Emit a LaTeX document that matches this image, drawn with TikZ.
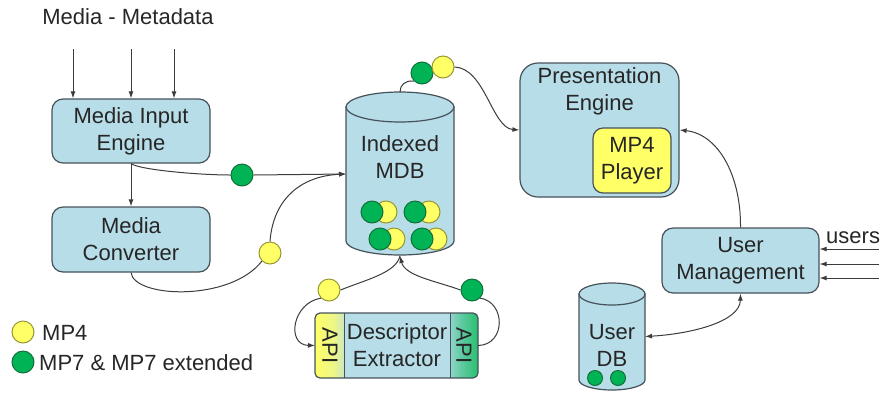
\documentclass[tikz,border=0pt]{standalone}
\usepackage{fontspec}
\setmainfont{Liberation Sans}
\usetikzlibrary{arrows.meta}
\definecolor{boxfill}{RGB}{183,221,232}
\definecolor{boxdraw}{RGB}{70,82,90}
\definecolor{ylw}{RGB}{255,255,102}
\definecolor{ydraw}{RGB}{150,150,50}
\definecolor{grn}{RGB}{0,180,85}
\definecolor{gdraw}{RGB}{20,110,60}
\definecolor{lncol}{RGB}{60,60,60}
\begin{document}
\begin{tikzpicture}[x=1pt,y=-1pt,
  txt/.style={font=\fontsize{22}{27}\selectfont, align=center, inner sep=0pt, text=black!85},
  box/.style={txt, draw=boxdraw, line width=1.2pt, fill=boxfill, rounded corners=11pt},
  shapeline/.style={draw=boxdraw, line width=1.2pt, fill=boxfill},
  conn/.style={draw=lncol, line width=1pt},
  arr/.style={conn, -{Latex[length=7pt,width=5pt]}},
  darr/.style={conn, {Latex[length=7pt,width=5pt]}-{Latex[length=7pt,width=5pt]}},
  ydot/.style={circle, fill=ylw, draw=ydraw, line width=1pt, minimum size=22pt, inner sep=0pt},
  gdot/.style={circle, fill=grn, draw=gdraw, line width=1pt, minimum size=22pt, inner sep=0pt},
  sgdot/.style={gdot, minimum size=15pt},
  hold/.style={inner sep=0pt, outer sep=0pt}
]
\useasboundingbox (0,0) rectangle (882,392);

% ---------- Media input side ----------
\node[txt] (mm) at (128,17) {Media - Metadata};
\node[box, minimum width=158pt, minimum height=64pt] (mie) at (131,131) {Media Input\\Engine};
\node[box, minimum width=158pt, minimum height=65pt] (mc) at (131,239.5) {Media\\Converter};
\coordinate (i1) at (73,49);
\coordinate (i2) at (131,49);
\coordinate (i3) at (174,49);
\draw[arr] (i1) -- (i1 |- mie.north);
\draw[arr] (i2) -- (i2 |- mie.north);
\draw[arr] (i3) -- (i3 |- mie.north);
\draw[arr] (mie.south) -- (mc.north);

% ---------- Indexed MDB cylinder ----------
\path[shapeline] (346,107) -- (346,241)
  .. controls (346,248.7) and (370.2,255) .. (400,255)
  .. controls (429.8,255) and (454,248.7) .. (454,241) -- (454,107) -- cycle;
\path[shapeline] (400,107) ellipse [x radius=54, y radius=15];
\node[hold, minimum width=108pt, minimum height=164pt] (mdb) at (400,174) {};
\node[txt] (mdbt) at (400,157) {Indexed\\MDB};
\foreach \px/\py/\nm in {372/212/a, 415/212/b, 380/239/c, 422/239/d}{
  \node[ydot] (y\nm) at (\px+14,\py) {};
  \node[gdot] (g\nm) at (\px,\py) {};
}

% ---------- Presentation engine ----------
\node[box, rounded corners=18pt, minimum width=159pt, minimum height=134pt] (pe) at (599.5,130) {};
\node[txt] (pet) at (599.5,91.5) {Presentation\\Engine};
\node[box, fill=ylw, rounded corners=10pt, minimum width=78pt, minimum height=65pt] (mp4) at (632,160.5) {MP4\\Player};

% ---------- User management ----------
\node[box, minimum width=157pt, minimum height=65pt] (um) at (740.5,260.5) {User\\Management};
\node[txt, anchor=base west] (users) at (826,243) {users};
\coordinate (u1) at (879,249);
\coordinate (u2) at (879,264);
\coordinate (u3) at (879,278);
\draw[arr] (u1) -- (u1 -| um.east);
\draw[arr] (u2) -- (u2 -| um.east);
\draw[arr] (u3) -- (u3 -| um.east);

% User DB cylinder
\path[shapeline] (579,294) -- (579,380)
  .. controls (579,385.5) and (593.8,390) .. (612,390)
  .. controls (630.2,390) and (645,385.5) .. (645,380) -- (645,294) -- cycle;
\path[shapeline] (612,294) ellipse [x radius=33, y radius=11];
\node[hold, minimum width=66pt, minimum height=107pt] (udb) at (612,336.5) {};
\node[txt] (udbt) at (612,345.5) {User\\DB};
\node[sgdot] (ud1) at (595,378) {};
\node[sgdot] (ud2) at (618,378) {};

% ---------- Descriptor extractor ----------
\shade[left color=ylw, right color=boxfill, middle color=ylw!75!boxfill, rounded corners=5pt] (315,313) rectangle (352,378);
\shade[left color=boxfill, right color=grn!85, middle color=grn!45!boxfill, rounded corners=5pt] (442,313) rectangle (478,378);
\fill[boxfill] (344,313) rectangle (450,378);
\node[hold, draw=boxdraw, line width=1.2pt, rounded corners=5pt, minimum width=163pt, minimum height=65pt] (de) at (396.5,345.5) {};
\draw[boxdraw, line width=1pt] (344,313) -- (344,378);
\draw[boxdraw, line width=1pt] (450,313) -- (450,378);
\node[txt, rotate=-90] (apil) at (330,345.5) {API};
\node[txt, rotate=-90] (apir) at (464,345.5) {API};
\node[txt] (det) at (397,345.5) {Descriptor\\Extractor};

% ---------- dots on connectors ----------
\node[gdot] (g1) at (242,175) {};
\node[ydot] (y1) at (270,253) {};
\node[gdot] (gt) at (422,73) {};
\node[ydot] (yt) at (443,67) {};
\node[ydot] (ye) at (329,290) {};
\node[gdot] (ge) at (472,290) {};

% ---------- connectors ----------
\draw[conn] (mie.south) .. controls (140,170) and (200,175) .. (g1.west);
\draw[arr] (g1.east) -- (mdb.west);
\draw[conn] (mc.south) .. controls (134,298) and (230,302) .. (y1.south west);
\draw[arr] (y1.north) .. controls (273,200) and (300,176) .. (mdb.west);
\draw[conn] (mdb.north) .. controls (400,85) and (405,80) .. (gt.south west);
\draw[arr] (yt.east) .. controls (485,68) and (492,128) .. (pe.west);
\draw[arr] (um.north) .. controls (741,175) and (718,134) .. (pe.east);
\draw[darr] (udb.east) .. controls (690,334) and (740,322) .. (um.south);
\draw[conn] (mdb.south) .. controls (396,273) and (365,280) .. (ye.east);
\draw[arr] (ye.south west) .. controls (292,303) and (286,345) .. (de.west);
\draw[conn] (de.east) .. controls (506,345) and (506,302) .. (ge.south east);
\draw[arr] (ge.west) .. controls (436,281) and (405,276) .. (mdb.south);

% ---------- legend ----------
\node[ydot] (ly) at (23,332) {};
\node[txt, anchor=west] (lyt) at (42,333) {MP4};
\node[gdot] (lg) at (23,362) {};
\node[txt, anchor=west] (lgt) at (39,363) {MP7 \& MP7 extended};
\end{tikzpicture}
\end{document}
